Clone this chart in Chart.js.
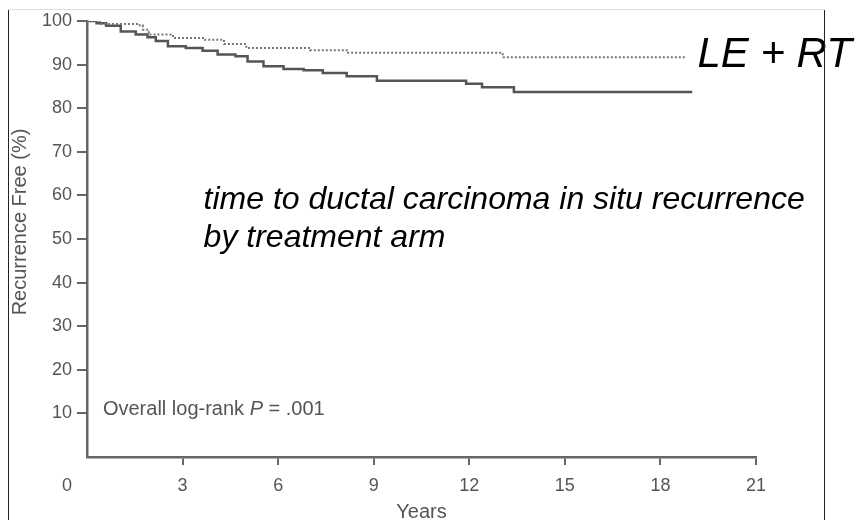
<!DOCTYPE html>
<html>
<head>
<meta charset="utf-8">
<script src="https://cdn.jsdelivr.net/npm/chart.js@4"></script>
<style>
    html, body { margin: 0; padding: 0; background: #fff; }
    #wrap { width: 860px; height: 520px; position: relative; }
</style>
</head>
<body>
<div id="wrap"><canvas id="km-chart" width="860" height="520"></canvas></div>
<script>
// 局部切除 + 放疗 (虚线)
const rtYears = [0, 0.4, 1.6, 1.75, 1.94, 2.7, 3.7, 4.3, 5.0, 7.0, 8.15, 13.05, 18.8];
const rtValues = [100, 99.3, 99.0, 98.0, 96.9, 96.1, 95.7, 94.7, 93.8, 93.3, 92.7, 91.7, 91.7];

// 单纯局部切除 (实线)
const leYears = [0, 0.3, 0.6, 1.06, 1.53, 1.9, 2.16, 2.54, 3.1, 3.63, 4.1, 4.66, 5.04, 5.54, 6.17, 6.8, 7.4, 8.15, 9.1, 11.9, 12.4, 13.4, 19.0];
const leValues = [100, 99.5, 98.9, 97.6, 96.9, 96.3, 95.4, 94.2, 93.8, 93.2, 92.3, 91.9, 90.7, 89.6, 89.0, 88.7, 88.1, 87.3, 86.3, 85.6, 84.8, 83.7, 83.7];

// 坐标轴刻度
const xTicks = [0, 3, 6, 9, 12, 15, 18, 21];
const yTicks = [10, 20, 30, 40, 50, 60, 70, 80, 90, 100];

const toPoints = (xs, ys) => xs.map((x, i) => ({ x: x, y: ys[i] }));

const tickFont = { family: 'Liberation Sans', size: 18 };
const tickColor = '#555';
const axisColor = '#666';

// 额外文字和外框
const overlayPlugin = {
    id: 'overlay',
    afterDraw(chart) {
        const ctx = chart.ctx;
        const xs = chart.scales.x;
        const ys = chart.scales.y;
        ctx.save();

        // 原点 "0"
        ctx.font = '18px "Liberation Sans"';
        ctx.fillStyle = tickColor;
        ctx.textAlign = 'center';
        ctx.textBaseline = 'middle';
        ctx.fillText('0', xs.getPixelForValue(0) - 20, 486);

        // 纵轴标题
        ctx.save();
        ctx.translate(20, 222);
        ctx.rotate(-Math.PI / 2);
        ctx.font = '20px "Liberation Sans"';
        ctx.fillText('Recurrence Free (%)', 0, 0);
        ctx.restore();

        // log-rank 检验
        let px = xs.getPixelForValue(0.5);
        const py = ys.getPixelForValue(11);
        ctx.textAlign = 'left';
        const parts = [
            ['20px "Liberation Sans"', 'Overall log-rank '],
            ['italic 20px "Liberation Sans"', 'P'],
            ['20px "Liberation Sans"', ' = .001']
        ];
        parts.forEach(p => {
            ctx.font = p[0];
            ctx.fillText(p[1], px, py);
            px += ctx.measureText(p[1]).width;
        });

        // 图中说明
        ctx.fillStyle = '#000';
        ctx.font = 'italic 32px "Liberation Sans"';
        const ax = xs.getPixelForValue(3.66);
        ctx.fillText('time to ductal carcinoma in situ recurrence', ax, 200);
        ctx.fillText('by treatment arm', ax, 238);

        ctx.font = 'italic 42px "Liberation Sans"';
        ctx.fillText('LE + RT', xs.getPixelForValue(19.16), 55);

        // 外框线
        ctx.lineWidth = 1;
        ctx.strokeStyle = '#ddd';
        ctx.beginPath();
        ctx.moveTo(8, 9.5);
        ctx.lineTo(824, 9.5);
        ctx.stroke();
        ctx.strokeStyle = '#222';
        ctx.beginPath();
        ctx.moveTo(8.5, 10);
        ctx.lineTo(8.5, 520);
        ctx.moveTo(824.5, 10);
        ctx.lineTo(824.5, 520);
        ctx.stroke();
        ctx.restore();
    }
};

new Chart(document.getElementById('km-chart'), {
    type: 'line',
    data: {
        datasets: [
            {
                label: 'LE + RT',
                data: toPoints(rtYears, rtValues),
                stepped: true,
                borderColor: '#777',
                borderWidth: 2,
                borderDash: [2, 2],
                pointRadius: 0,
                fill: false
            },
            {
                label: 'LE',
                data: toPoints(leYears, leValues),
                stepped: true,
                borderColor: '#555',
                borderWidth: 2.5,
                pointRadius: 0,
                fill: false
            }
        ]
    },
    options: {
        responsive: false,
        animation: false,
        layout: {
            padding: { left: 0, right: 104, top: 21, bottom: 0 }
        },
        plugins: {
            legend: { display: false },
            tooltip: { enabled: false }
        },
        scales: {
            x: {
                type: 'linear',
                min: 0,
                max: 21,
                afterBuildTicks: scale => {
                    scale.ticks = xTicks.map(v => ({ value: v }));
                },
                afterFit: scale => { scale.height = 63; },
                ticks: {
                    font: tickFont,
                    color: tickColor,
                    padding: 10,
                    callback: v => (v === 0 ? '' : v)
                },
                grid: {
                    drawOnChartArea: false,
                    drawTicks: true,
                    tickLength: 8,
                    lineWidth: 2,
                    color: ctx => (ctx.tick && ctx.tick.value === 0 ? 'rgba(0,0,0,0)' : axisColor)
                },
                border: { display: true, color: axisColor, width: 2.5 },
                title: {
                    display: true,
                    text: 'Years',
                    font: { family: 'Liberation Sans', size: 20, lineHeight: 1 },
                    color: tickColor,
                    padding: { top: 0, bottom: -2 }
                }
            },
            y: {
                min: 0,
                max: 100,
                afterBuildTicks: scale => {
                    scale.ticks = yTicks.map(v => ({ value: v }));
                },
                afterFit: scale => { scale.width = 87; },
                ticks: {
                    font: tickFont,
                    color: tickColor,
                    padding: 5
                },
                grid: {
                    drawOnChartArea: false,
                    drawTicks: true,
                    tickLength: 10,
                    lineWidth: 2,
                    color: axisColor
                },
                border: { display: true, color: axisColor, width: 2.5 }
            }
        }
    },
    plugins: [overlayPlugin]
});
</script>
</body>
</html>
